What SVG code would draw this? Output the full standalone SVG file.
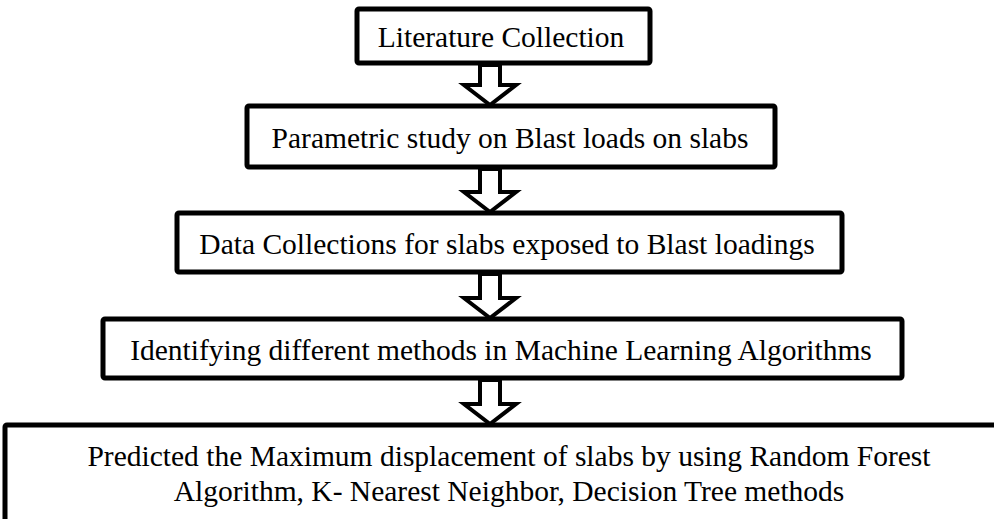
<svg xmlns="http://www.w3.org/2000/svg" width="994" height="519" viewBox="0 0 994 519">
<style>
.box{fill:#fff;stroke:#000;stroke-width:5;}
.t{font-family:"Liberation Serif","Times New Roman",serif;font-size:29.5px;fill:#000;text-anchor:middle;}
.arr{fill:#fff;stroke:#000;stroke-width:4;stroke-linejoin:miter;}
</style>
<rect width="994" height="519" fill="#fff"/>
<g id="node1"><rect class="box" x="357" y="9" width="293" height="54" rx="2"/><text class="t" x="501" y="47">Literature Collection</text></g>
<g id="node2"><rect class="box" x="247" y="106" width="528" height="61" rx="2"/><text class="t" x="510" y="148">Parametric study on Blast loads on slabs</text></g>
<g id="node3"><rect class="box" x="177" y="213" width="665" height="59" rx="2"/><text class="t" x="507" y="254">Data Collections for slabs exposed to Blast loadings</text></g>
<g id="node4"><rect class="box" x="103" y="319" width="799" height="59" rx="2"/><text class="t" x="501" y="360">Identifying different methods in Machine Learning Algorithms</text></g>
<g id="node5"><rect class="box" x="5" y="425" width="1010" height="120" rx="2"/><text class="t" x="509" y="466">Predicted the Maximum displacement of slabs by using Random Forest</text><text class="t" x="509" y="501">Algorithm, K- Nearest Neighbor, Decision Tree methods</text></g>
<g id="connectors">
<polygon class="arr" points="480,65 480,85 464,85 490,105 516,85 500,85 500,65"/>
<polygon class="arr" points="480,169 480,192 464,192 490,212 516,192 500,192 500,169"/>
<polygon class="arr" points="480,274 480,298 464,298 490,318 516,298 500,298 500,274"/>
<polygon class="arr" points="480,380 480,404 464,404 490,424 516,404 500,404 500,380"/>
</g>
</svg>
